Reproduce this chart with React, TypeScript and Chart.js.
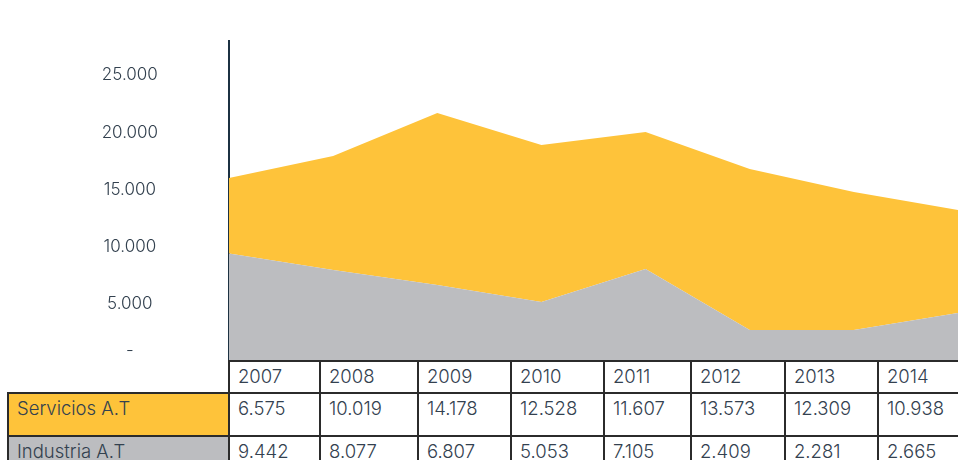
import React, { useEffect, useRef } from "react";
import { Chart, registerables } from "chart.js";

Chart.register(...registerables);

// ---- Data ----
const years = ["2007", "2008", "2009", "2010", "2011", "2012", "2013", "2014"];
// Values printed in the table
const serviciosTabla = [6575, 10019, 14178, 12528, 11607, 13573, 12309, 10938];
const industriaTabla = [9442, 8077, 6807, 5053, 7105, 2409, 2281, 2665];
// Values
const industriaArea = [9406, 7963, 6650, 5163, 8050, 2713, 2713, 4200];
const serviciosArea = [6607, 9975, 15050, 13737, 11988, 14087, 12075, 9013];
const yTickValues = [0, 5000, 10000, 15000, 20000, 25000];
const yMax = 28000;

// ---- Styles ----
const YELLOW = "#FEC33A";
const GREY = "#BCBDC0";
const TEXT = "#33414F";
const FONT = "Inter, 'Open Sans', sans-serif";
const colWidths = [91, 98, 93, 93, 87, 94, 93, 93];
const rowHeights = [32, 43, 43];

const fmt = (n: number) =>
  String(n).replace(/\B(?=(\d{3})+(?!\d))/g, ".");

function AreaChart() {
  const ref = useRef<HTMLCanvasElement | null>(null);
  useEffect(() => {
    if (!ref.current) return;
    const chart = new Chart(ref.current, {
      type: "line",
      data: {
        labels: years,
        datasets: [
          {
            label: "Industria A.T",
            data: industriaArea,
            backgroundColor: GREY,
            borderWidth: 0,
            pointRadius: 0,
            fill: "origin",
            tension: 0,
          },
          {
            label: "Servicios A.T",
            data: serviciosArea,
            backgroundColor: YELLOW,
            borderWidth: 0,
            pointRadius: 0,
            fill: "-1",
            tension: 0,
          },
        ],
      },
      options: {
        animation: false,
        responsive: true,
        maintainAspectRatio: false,
        layout: { padding: { top: 41, left: 0, right: 0, bottom: 0 } },
        plugins: { legend: { display: false }, tooltip: { enabled: false } },
        scales: {
          x: { display: false, offset: false },
          y: {
            stacked: true,
            min: 0,
            max: yMax,
            grid: { display: false, drawTicks: false },
            border: { display: true, color: "#1C3142", width: 2 },
            afterBuildTicks: (scale: any) => {
              scale.ticks = yTickValues.map((v) => ({ value: v }));
            },
            afterFit: (scale: any) => {
              scale.width = 229;
              scale.paddingTop = 0;
              scale.paddingBottom = 0;
            },
            ticks: {
              crossAlign: "center",
              padding: 71,
              color: TEXT,
              font: { family: FONT, size: 17, weight: "300" },
              callback: (v: any) => (Number(v) === 0 ? ["-", ""] : fmt(Number(v))),
            },
          },
        },
      },
    });
    return () => chart.destroy();
  }, []);
  return (
    <div style={{ position: "absolute", left: 0, top: 0, width: 958, height: 361 }}>
      <canvas ref={ref} />
    </div>
  );
}

function DataTable() {
  const borderColor = "#2B2B2B";
  const cells: React.ReactNode[] = [];
  const labelLeft = 8;
  const gridLeft = 229;
  const rowTops = [361];
  rowHeights.forEach((h, i) => rowTops.push(rowTops[i] + h));
  const colLefts = [gridLeft];
  colWidths.forEach((w, i) => colLefts.push(colLefts[i] + w));

  const cellStyle = (x: number, y: number, w: number, h: number, bg: string): React.CSSProperties => ({
    position: "absolute",
    left: x - 1,
    top: y - 1,
    width: w + 2,
    height: h + 2,
    boxSizing: "border-box",
    border: `2px solid ${borderColor}`,
    background: bg,
    padding: "5px 0 0 8px",
    fontFamily: FONT,
    fontWeight: 300,
    fontSize: 18.5,
    lineHeight: "18px",
    color: TEXT,
    whiteSpace: "nowrap",
    overflow: "hidden",
  });

  years.forEach((yr, i) => {
    cells.push(
      <div key={"h" + i} style={cellStyle(colLefts[i], rowTops[0], colWidths[i], rowHeights[0], "#fff")}>
        {yr}
      </div>
    );
  });
  const rows = [
    { label: "Servicios A.T", values: serviciosTabla, bg: YELLOW },
    { label: "Industria A.T", values: industriaTabla, bg: GREY },
  ];
  rows.forEach((r, ri) => {
    const y = rowTops[ri + 1];
    const h = rowHeights[ri + 1];
    cells.push(
      <div key={"l" + ri} style={cellStyle(labelLeft, y, gridLeft - labelLeft, h, r.bg)}>
        {r.label}
      </div>
    );
    r.values.forEach((v, ci) => {
      cells.push(
        <div key={"c" + ri + "-" + ci} style={cellStyle(colLefts[ci], y, colWidths[ci], h, "#fff")}>
          {fmt(v)}
        </div>
      );
    });
  });
  return <>{cells}</>;
}

export default function App() {
  useEffect(() => {
    document.body.style.margin = "0";
    document.body.style.overflow = "hidden";
  }, []);
  return (
    <div style={{ position: "relative", width: 958, height: 460, overflow: "hidden", background: "#fff" }}>
      <AreaChart />
      <DataTable />
    </div>
  );
}
